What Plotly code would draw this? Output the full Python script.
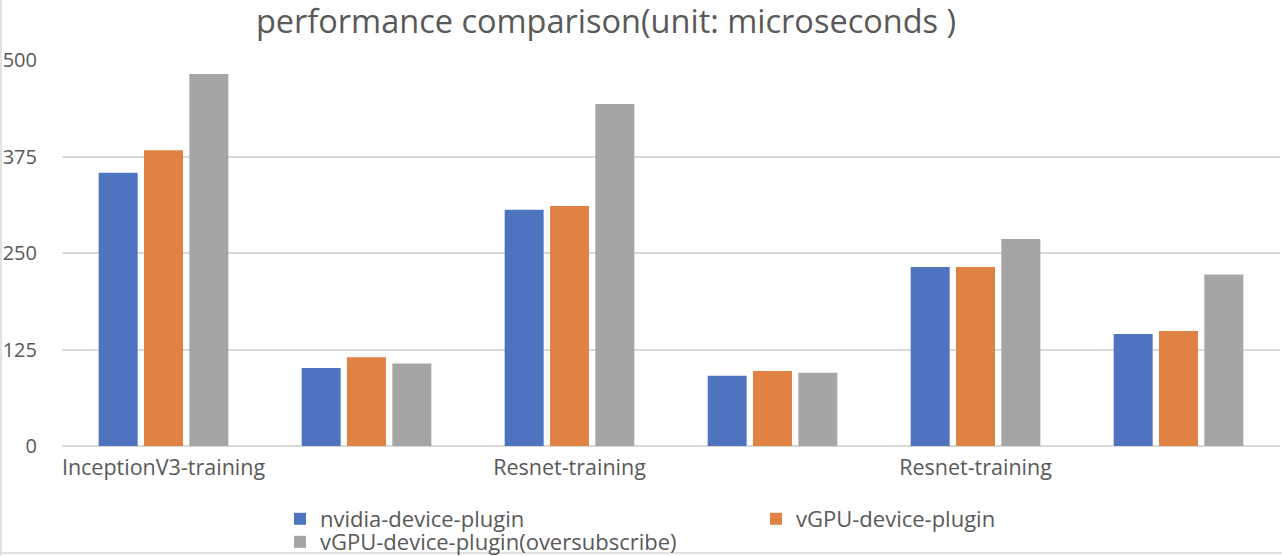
import plotly.graph_objects as go

categories = ["InceptionV3-training", "", "Resnet-training", "", "Resnet-training", ""]
nvidia = [354, 101, 306, 91, 232, 145]
vgpu = [383, 115, 311, 97, 232, 149]
vgpu_over = [482, 107, 443, 95, 268, 222]
series_names = ["nvidia-device-plugin", "vGPU-device-plugin", "vGPU-device-plugin(oversubscribe)"]
colors = ["#4E74BF", "#E08244", "#A5A5A5"]
yticks = [0, 125, 250, 375, 500]

W, H = 1282, 556
x = list(range(len(categories)))
fig = go.Figure()
legends = ["legend", "legend", "legend2"]
for name, vals, c, lg in zip(series_names, [nvidia, vgpu, vgpu_over], colors, legends):
    fig.add_trace(go.Bar(x=x, y=vals, name=name, legend=lg,
                         marker=dict(color=c, line=dict(width=0))))

font_fam = "Open Sans, Noto Sans, sans-serif"
leg_font = dict(family=font_fam, size=22, color="#595959")
fig.update_layout(
    width=W, height=H,
    paper_bgcolor="white", plot_bgcolor="white",
    margin=dict(l=62, r=2, t=60, b=H - 446, autoexpand=False),
    barmode="group", bargap=0.33, bargroupgap=0.14,
    title=dict(text="performance comparison(unit: microseconds )", x=606 / W, xanchor="center",
               xref="container", y=1 - 22 / H, yanchor="middle",
               font=dict(family=font_fam, size=32.5, color="#595959")),
    font=dict(family=font_fam, color="#595959"),
    showlegend=True,
    legend=dict(orientation="h", xref="container", yref="container",
                x=280 / W, xanchor="left", y=1 - 519 / H, yanchor="middle",
                entrywidth=431, entrywidthmode="pixels", traceorder="normal",
                font=leg_font, bgcolor="rgba(0,0,0,0)"),
    legend2=dict(orientation="h", xref="container", yref="container",
                 x=280 / W, xanchor="left", y=1 - 542 / H, yanchor="middle",
                 font=leg_font, bgcolor="rgba(0,0,0,0)"),
    xaxis=dict(tickmode="array", tickvals=x, ticktext=categories, showgrid=False,
               showline=False, zeroline=False, ticks="", range=[-0.5, 5.5],
               automargin=False, ticklabelstandoff=6,
               tickfont=dict(family=font_fam, size=21.5, color="#595959")),
    yaxis=dict(range=[0, 500], tickmode="array", tickvals=yticks, showgrid=True,
               gridcolor="#D9D9D9", gridwidth=2, zeroline=True, zerolinecolor="#D9D9D9",
               zerolinewidth=2, showline=False, ticks="", ticklabelstandoff=24,
               automargin=False,
               tickfont=dict(family=font_fam, size=20, color="#595959")),
)
fig.add_shape(type="line", xref="paper", yref="paper", x0=-61 / 1218, x1=-61 / 1218,
              y0=-(H - 446) / 386, y1=1 + 60 / 386,
              line=dict(color="#D9D9D9", width=1.5))
fig.add_shape(type="line", xref="paper", yref="paper", x0=-62 / 1218, x1=1 + 2 / 1218,
              y0=-(553 - 446) / 386, y1=-(553 - 446) / 386,
              line=dict(color="#D9D9D9", width=1.5))
fig.write_html("out.html", config={"displayModeBar": False},
               post_script="document.body.style.margin='0';document.body.style.overflow='hidden';")
